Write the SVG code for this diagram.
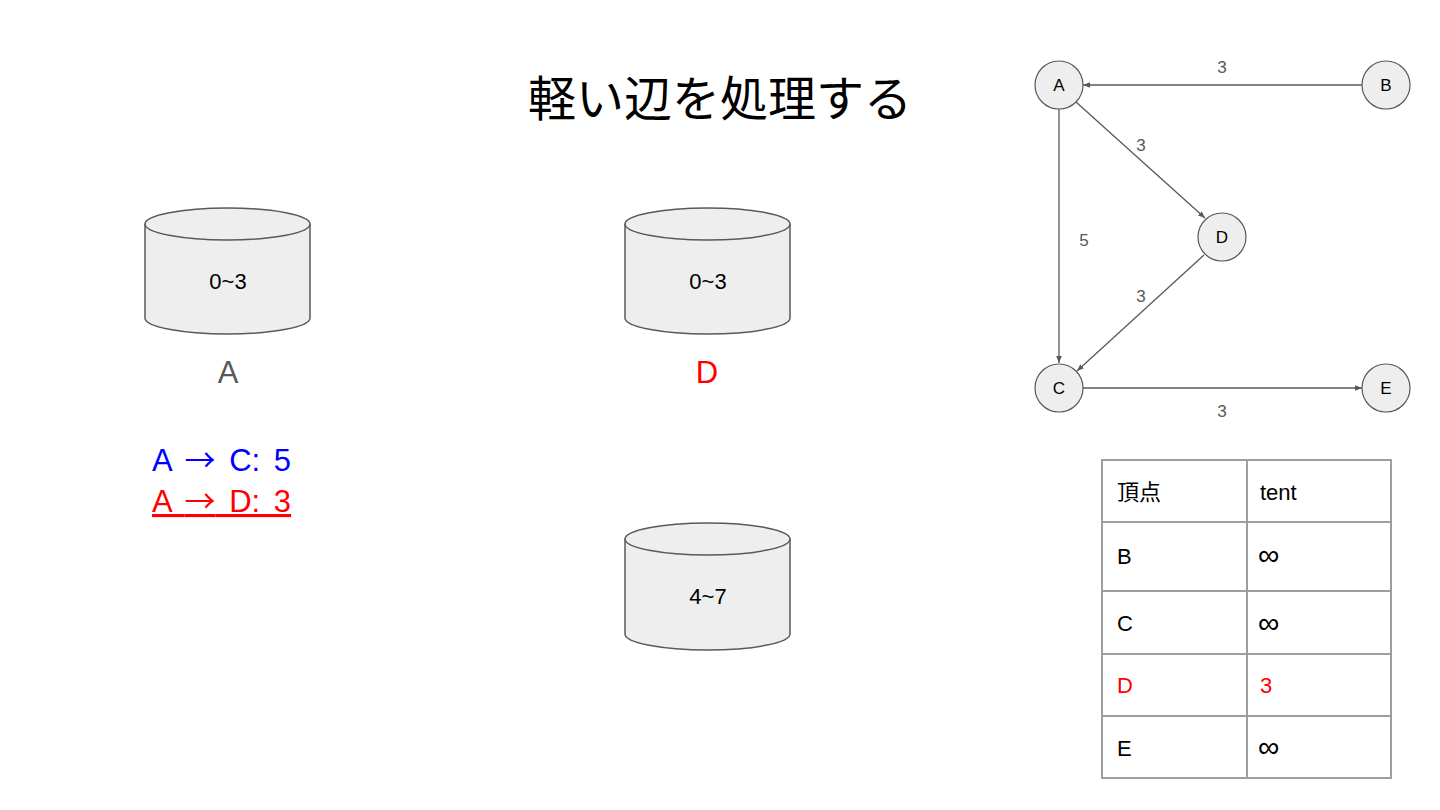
<svg xmlns="http://www.w3.org/2000/svg" width="1440" height="810" viewBox="0 0 1440 810">
<style>
text{font-family:"Liberation Sans","Noto Sans CJK JP",sans-serif}
.cyl{fill:#eeeeee;stroke:#595959;stroke-width:1.5}
.ct{font-size:22px;fill:#000;text-anchor:middle}
.gn{fill:#eeeeee;stroke:#595959;stroke-width:1.2}
.gt{font-size:17px;fill:#000;text-anchor:middle}
.el{font-size:17px;fill:#595959;text-anchor:middle}
.edge{stroke:#595959;stroke-width:1.3;fill:none;marker-end:url(#ah)}
.grid{stroke:#9e9e9e;stroke-width:2;fill:none}
.tt{font-size:22px;fill:#000}
.inf{font-size:30px;fill:#000}
.arr{font-family:"Noto Sans CJK JP",sans-serif}
.rel{font-size:31px;word-spacing:5px}
</style>
<defs>
<marker id="ah" viewBox="0 0 10 10" refX="10" refY="5" markerWidth="7" markerHeight="7" orient="auto" markerUnits="userSpaceOnUse"><path d="M0,1 L10,5 L0,9 z" fill="#595959"/></marker>
</defs>
<rect width="1440" height="810" fill="#fff"/>
<text x="720" y="116" font-size="48" text-anchor="middle" fill="#000">軽い辺を処理する</text>

<g id="cyl-A">
<path class="cyl" d="M145,224 L145,318 A82.5,16 0 0 0 310,318 L310,224"/>
<ellipse class="cyl" cx="227.5" cy="224" rx="82.5" ry="16"/>
<text class="ct" x="228" y="289">0~3</text>
</g>
<g id="cyl-D">
<path class="cyl" d="M625,224 L625,318 A82.5,16 0 0 0 790,318 L790,224"/>
<ellipse class="cyl" cx="707.5" cy="224" rx="82.5" ry="16"/>
<text class="ct" x="708" y="289">0~3</text>
</g>
<g id="cyl-47">
<path class="cyl" d="M625,539 L625,634 A82.5,16 0 0 0 790,634 L790,539"/>
<ellipse class="cyl" cx="707.5" cy="539" rx="82.5" ry="16"/>
<text class="ct" x="708" y="604">4~7</text>
</g>
<text x="228" y="383" font-size="31" text-anchor="middle" fill="#595959">A</text>
<text x="707" y="383" font-size="31" text-anchor="middle" fill="#ff0000">D</text>
<text class="rel" x="152" y="471" fill="#0000ff">A <tspan class="arr">→</tspan> C: 5</text>
<text class="rel" x="152" y="512" fill="#ff0000" text-decoration="underline">A <tspan class="arr">→</tspan> D: 3</text>

<g id="connectors">
<line class="edge" x1="1362" y1="85" x2="1083" y2="85"/>
<line class="edge" x1="1076" y1="102" x2="1205" y2="218"/>
<line class="edge" x1="1059" y1="109" x2="1059" y2="363"/>
<line class="edge" x1="1204" y1="255" x2="1077" y2="371"/>
<line class="edge" x1="1083" y1="388" x2="1362" y2="388"/>
<text class="el" x="1222" y="73">3</text>
<text class="el" x="1141" y="151">3</text>
<text class="el" x="1084" y="246">5</text>
<text class="el" x="1141" y="302">3</text>
<text class="el" x="1222" y="417">3</text>
</g>
<g id="node-A"><circle class="gn" cx="1059" cy="85" r="24"/><text class="gt" x="1059" y="91">A</text></g>
<g id="node-B"><circle class="gn" cx="1386" cy="85" r="24"/><text class="gt" x="1386" y="91">B</text></g>
<g id="node-D"><circle class="gn" cx="1222" cy="237" r="24"/><text class="gt" x="1222" y="243">D</text></g>
<g id="node-C"><circle class="gn" cx="1059" cy="388" r="24"/><text class="gt" x="1059" y="394">C</text></g>
<g id="node-E"><circle class="gn" cx="1386" cy="388" r="24"/><text class="gt" x="1386" y="394">E</text></g>

<g id="table">
<rect class="grid" x="1102" y="460" width="289" height="318"/>
<line class="grid" x1="1247" y1="460" x2="1247" y2="778"/>
<line class="grid" x1="1102" y1="522" x2="1391" y2="522"/>
<line class="grid" x1="1102" y1="591" x2="1391" y2="591"/>
<line class="grid" x1="1102" y1="654" x2="1391" y2="654"/>
<line class="grid" x1="1102" y1="716" x2="1391" y2="716"/>
<text class="tt" x="1117" y="500">頂点</text><text class="tt" x="1260" y="500">tent</text>
<text class="tt" x="1117" y="564">B</text><text class="inf" x="1258" y="565">∞</text>
<text class="tt" x="1117" y="631">C</text><text class="inf" x="1258" y="633">∞</text>
<text class="tt" x="1117" y="693" style="fill:#ff0000">D</text><text class="tt" x="1260" y="693" style="fill:#ff0000">3</text>
<text class="tt" x="1117" y="756">E</text><text class="inf" x="1258" y="757">∞</text>
</g>
</svg>
